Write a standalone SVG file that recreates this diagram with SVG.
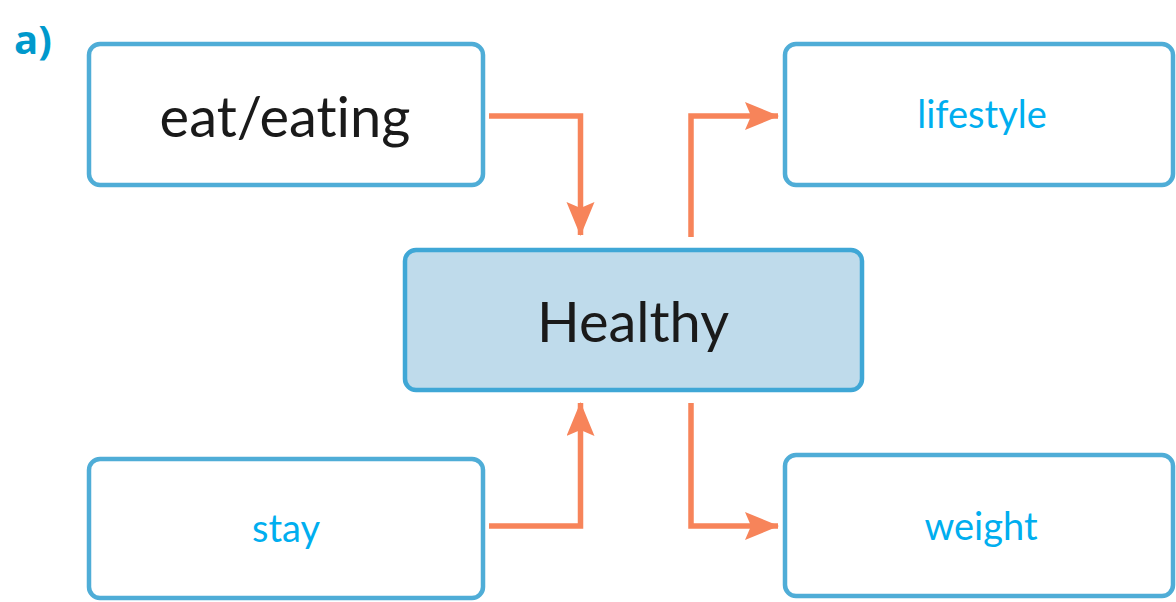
<svg xmlns="http://www.w3.org/2000/svg" width="1176" height="602" viewBox="0 0 1176 602">
<style>
.box{fill:#fff;stroke:#4FADD7;stroke-width:4.5}
.hub{fill:#BFDBEB;stroke:#3FA7D6;stroke-width:4.5}
.big{font-family:Lato,"Open Sans",sans-serif;font-size:56px;fill:#1a1a1a;text-anchor:middle;font-variant-ligatures:none}
.small{font-family:Lato,"Open Sans",sans-serif;font-size:38px;fill:#00AEEF;text-anchor:middle;font-variant-ligatures:none}
.con{fill:none;stroke:#F7845A;stroke-width:5.5}
</style>
<defs>
<marker id="ah" markerUnits="userSpaceOnUse" markerWidth="34" markerHeight="30" refX="33" refY="14" orient="auto">
<path d="M0,0 L34,14 L0,28 L6,14 Z" fill="#F7845A"/>
</marker>
</defs>
<text x="14" y="54" font-family="Open Sans,sans-serif" font-weight="bold" font-size="40" fill="#0099CC">a)</text>
<g id="eat"><rect class="box" x="89" y="44" width="394" height="141" rx="11"/><text class="big" x="285" y="137">eat/eating</text></g>
<g id="lifestyle"><rect class="box" x="785" y="44" width="388" height="141" rx="11"/><text class="small" x="982" y="128">lifestyle</text></g>
<g id="healthy"><rect class="hub" x="405" y="250" width="457" height="140" rx="11"/><text class="big" x="633" y="342">Healthy</text></g>
<g id="stay"><rect class="box" x="89" y="459" width="394" height="139" rx="11"/><text class="small" x="286" y="542">stay</text></g>
<g id="weight"><rect class="box" x="785" y="455" width="388" height="141" rx="11"/><text class="small" x="981" y="540">weight</text></g>
<g id="connectors">
<path class="con" d="M489,116 H580.5 V235" marker-end="url(#ah)"/>
<path class="con" d="M691,237 V116 H778" marker-end="url(#ah)"/>
<path class="con" d="M489,526 H580.5 V403" marker-end="url(#ah)"/>
<path class="con" d="M691,403 V526 H778" marker-end="url(#ah)"/>
</g>
</svg>
